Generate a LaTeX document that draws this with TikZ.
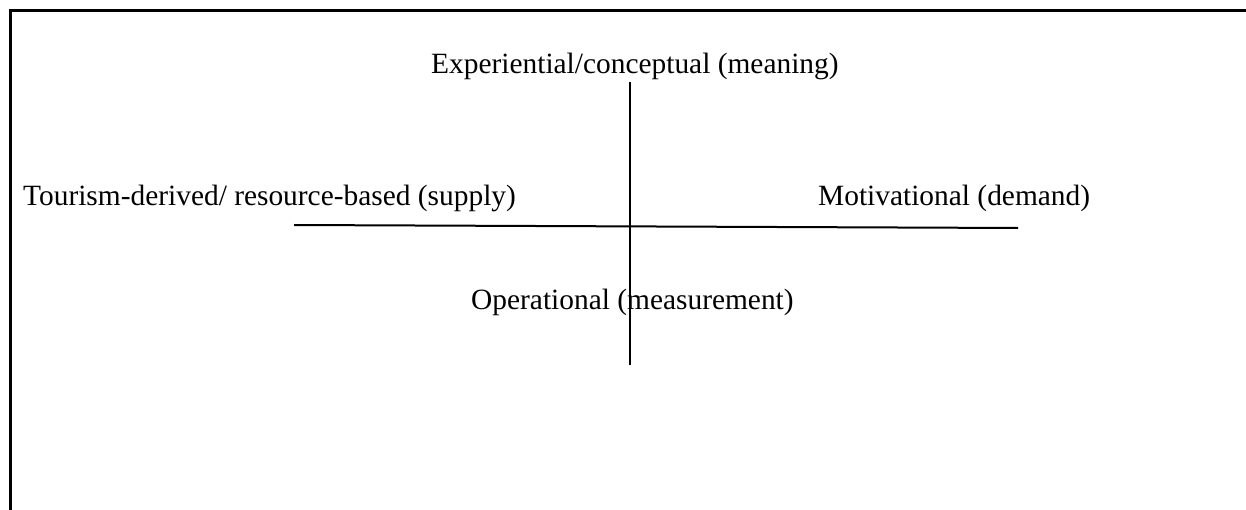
\documentclass[tikz,border=0pt]{standalone}
\usepackage{fontspec}
\setmainfont{Liberation Serif}
\begin{document}
\begin{tikzpicture}[x=1pt,y=-1pt,
  label/.style={anchor=base west,inner sep=0pt,font=\fontsize{29.4}{34}\selectfont},
  axis/.style={line width=2pt,black},
  frame/.style={line width=3pt,black}]
\useasboundingbox (0,0) rectangle (1246,510);
% open frame: top and left edges only
\coordinate (fbl) at (10,510);
\coordinate (ftl) at (10,11);
\coordinate (ftr) at (1246,11);
\draw[frame] (fbl) -- (ftl) -- (ftr);
% axis labels
\node[label] (top) at (431,74) {Experiential/conceptual (meaning)};
\node[label] (left) at (23,206) {Tourism-derived/ resource-based (supply)};
\node[label] (right) at (818,206) {Motivational (demand)};
\node[label] (bottom) at (471,309) {Operational (measurement)};
% axes
\coordinate (hL) at (294,225);
\coordinate (hR) at (1018,228);
\coordinate (vT) at (630,82);
\coordinate (vB) at (630,365);
\draw[axis] (hL) -- (hR);
\draw[axis] (vT) -- (vB);
\end{tikzpicture}
\end{document}
